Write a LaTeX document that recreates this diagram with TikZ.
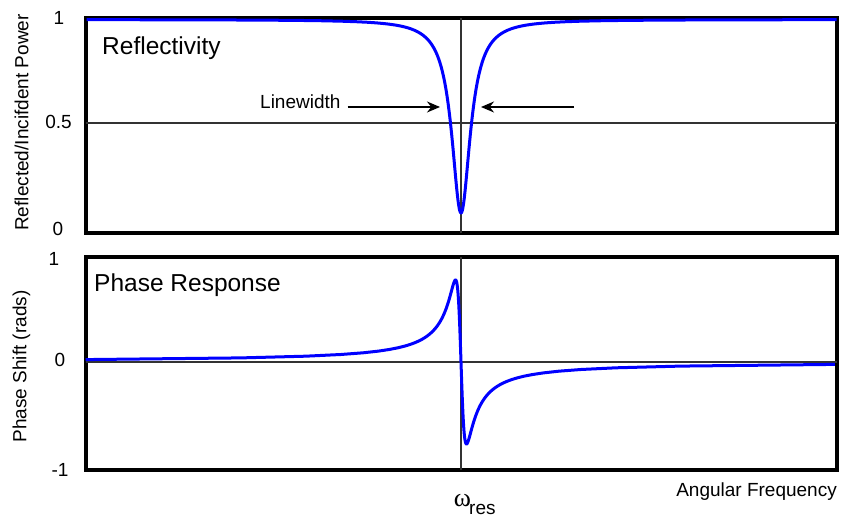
\documentclass[tikz,border=0pt]{standalone}
\usepackage{fontspec}
\setmainfont{Liberation Sans}
\newfontfamily\greekfont{Liberation Serif}
\usetikzlibrary{arrows.meta}
\definecolor{tracec}{HTML}{0000FF}
\definecolor{gridc}{HTML}{333333}
\tikzset{
  frame/.style={draw=black, line width=3.5pt},
  axis/.style={draw=gridc, line width=1.3pt},
  trace/.style={draw=tracec, line width=3pt, line join=round},
  tick/.style={font=\fontsize{19}{22}\selectfont, inner sep=0pt},
  ylbl/.style={font=\fontsize{19}{22}\selectfont, rotate=90, inner sep=0pt},
  ttl/.style={font=\fontsize{24.5}{28}\selectfont, inner sep=0pt, anchor=base west},
  lbl/.style={font=\fontsize{19}{22}\selectfont, inner sep=0pt},
  arr/.style={-{Stealth[length=13pt,width=11pt]}, line width=1.3pt},
}

\begin{document}
\begin{tikzpicture}[x=1pt, y=1pt]
\useasboundingbox (0,0) rectangle (841,518);

% ---------------- reflectivity ----------------
\draw[frame] (86,285) rectangle (837,500);
\draw[axis] (86,395) -- (837,395);
\draw[axis] (461,285) -- (461,500);
\draw[trace] plot[domain=-88.27:88.28, samples=241, variable=\t]
  ({461+11.3*tan(\t)}, {498.5-193.5*cos(\t)^2});
\node[tick] (r1) at (59,500) {1};
\node[tick] (rhalf) at (58.5,396) {0.5};
\node[tick] (r0) at (58,289) {0};
\node[ylbl] (rlbl) at (21.5,395.5) {Reflected/Incifdent Power};
\node[ttl] (rttl) at (102,463) {Reflectivity};

% the linewidth at half depth
\node[lbl, anchor=base west] (lw) at (260,409) {Linewidth};
\coordinate (tipl) at (440,411);
\coordinate (tailr) at (574,411);
\coordinate (tipr) at (481,411);
\draw[arr] ([xshift=7pt]lw.base east |- tipl) -- (tipl);
\draw[arr] (tailr) -- (tipr);

% ---------------- phase ----------------
\draw[frame] (86,48) rectangle (837,261);
\draw[axis] (86,156) -- (837,156);
\draw[axis] (461,48) -- (461,261);
\draw[trace] plot[domain=-89.16:89.16, samples=301, variable=\t]
  ({461+5.5*tan(\t)}, {156-82*sin(2*\t)});
\node[tick] (p1) at (54,259) {1};
\node[tick] (p0) at (60,158.5) {0};
\node[tick] (pm1) at (60,48.5) {-1};
\node[ylbl] (plbl) at (21.5,151.5) {Phase Shift (rads)};
\node[ttl] (pttl) at (94,226) {Phase Response};

% frequency axis
\node[lbl, anchor=base east] (freq) at (837,21) {Angular Frequency};
\node[font=\greekfont\fontsize{26}{28}\selectfont, inner sep=0pt, anchor=base] (om) at (462.5,11) {ω};
\node[lbl, anchor=base west] (res) at (469,3) {res};
\end{tikzpicture}
\end{document}
